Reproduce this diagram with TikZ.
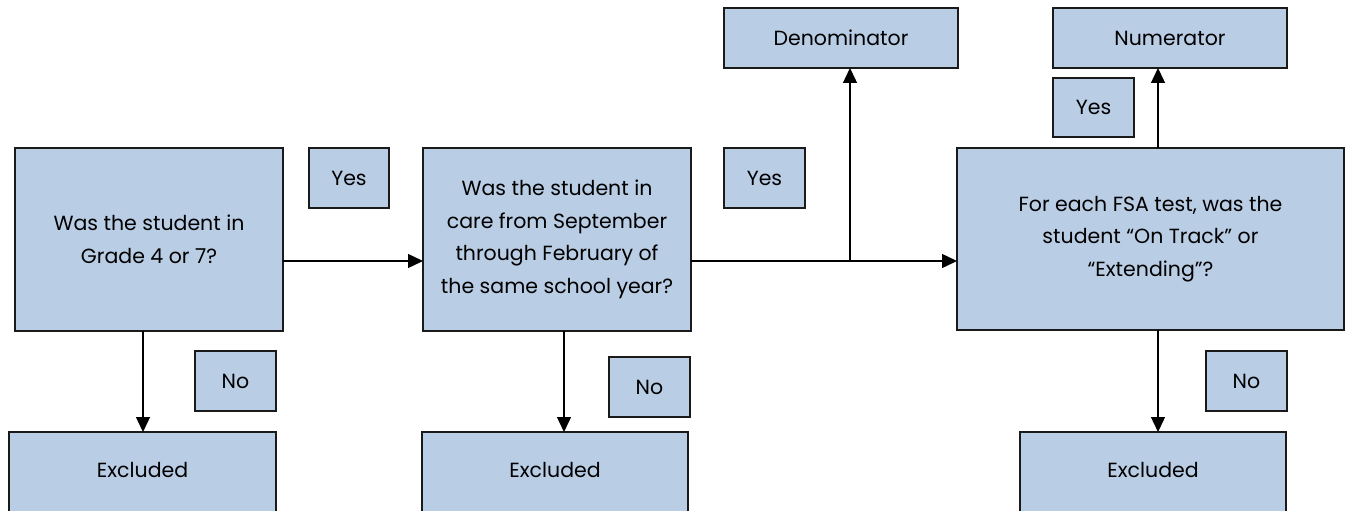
\documentclass[tikz,border=0pt]{standalone}
\usepackage{fontspec}
\setmainfont{Poppins}
\usetikzlibrary{arrows.meta}
\definecolor{boxfill}{HTML}{B9CDE5}
\definecolor{boxline}{HTML}{1A1A1A}
\tikzset{
  box/.style={draw=boxline, fill=boxfill, line width=1.5pt, inner sep=0pt, outer sep=0pt,
    align=center, font=\fontsize{20.5}{32.5}\selectfont},
  arr/.style={draw=black, line width=1.4pt, -{Triangle[length=15pt,width=14pt]}},
  ln/.style={draw=black, line width=1.4pt}
}
\begin{document}
\begin{tikzpicture}[x=1pt,y=-1pt]
\useasboundingbox (0,0) rectangle (1345,511);
\clip (0,0) rectangle (1345,511);
% main question boxes
\node[box, minimum width=268pt, minimum height=183pt] (A) at (149,239.5)
  {Was the student in\\Grade 4 or 7?};
\node[box, minimum width=268pt, minimum height=183pt] (B) at (557,239.5)
  {Was the student in\\care from September\\through February of\\the same school year?};
\node[box, minimum width=387pt, minimum height=182pt] (C) at (1150.5,239)
  {For each FSA test, was the\\student “On Track” or\\“Extending”?};
% result boxes
\node[box, minimum width=234pt, minimum height=60pt] (Den) at (841,38) {Denominator};
\node[box, minimum width=234pt, minimum height=60pt] (Num) at (1170,38) {Numerator};
% yes / no labels
\node[box, minimum width=80pt, minimum height=60pt] (YesL) at (349,178) {Yes};
\node[box, minimum width=81pt, minimum height=60pt] (YesM) at (764.5,178) {Yes};
\node[box, minimum width=81pt, minimum height=59pt] (YesR) at (1093.5,107.5) {Yes};
\node[box, minimum width=81pt, minimum height=60pt] (NoL) at (235.5,381) {No};
\node[box, minimum width=81pt, minimum height=60pt] (NoM) at (649.5,387) {No};
\node[box, minimum width=81pt, minimum height=60pt] (NoR) at (1246.5,381) {No};
% excluded boxes (cut off at the bottom)
\node[box, minimum width=267pt, minimum height=84pt, text height=15pt, text depth=8pt] (ExL) at (142.5,474) {Excluded};
\node[box, minimum width=266pt, minimum height=84pt, text height=15pt, text depth=8pt] (ExM) at (555,474) {Excluded};
\node[box, minimum width=266pt, minimum height=84pt, text height=15pt, text depth=8pt] (ExR) at (1153,474) {Excluded};
% helper coordinates
\coordinate (rowy) at (0,261);
\coordinate (J) at (850,261);
\coordinate (xA) at (143,0);
\coordinate (xB) at (564,0);
\coordinate (xC) at (1158,0);
% connectors
\draw[arr] (A.east |- rowy) -- (B.west |- rowy);
\draw[ln] (B.east |- rowy) -- (J);
\draw[arr] (J) -- (C.west |- rowy);
\draw[arr] (J) -- (J |- Den.south);
\draw[arr] (xC |- C.north) -- (xC |- Num.south);
\draw[arr] (xA |- A.south) -- (xA |- ExL.north);
\draw[arr] (xB |- B.south) -- (xB |- ExM.north);
\draw[arr] (xC |- C.south) -- (xC |- ExR.north);
\end{tikzpicture}
\end{document}
